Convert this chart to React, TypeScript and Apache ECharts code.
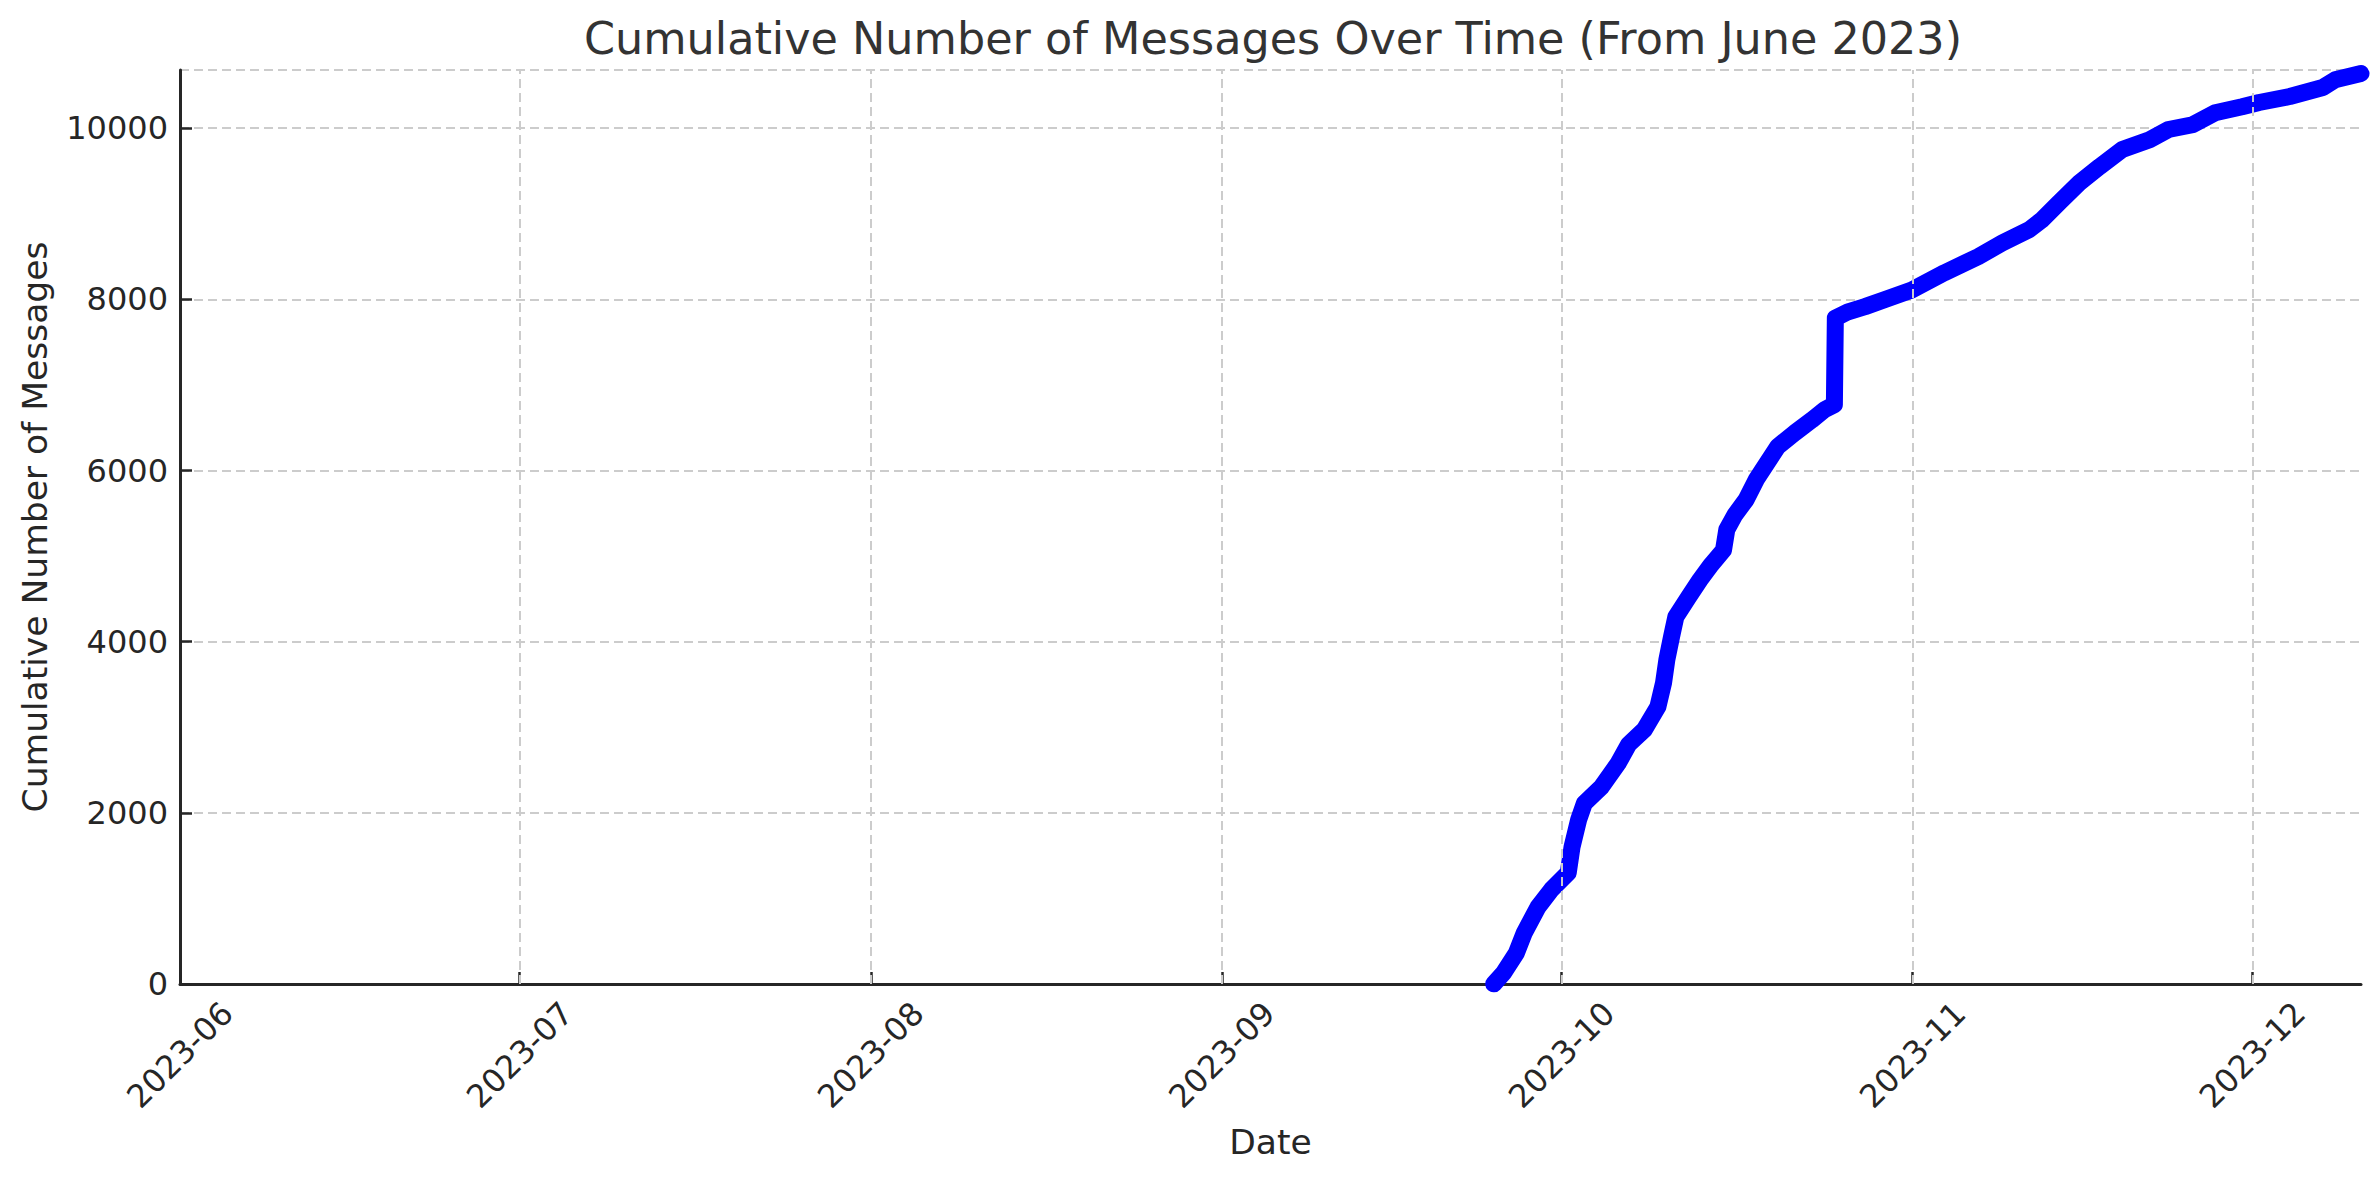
import React, { useEffect, useRef } from "react";
import * as echarts from "echarts";

const TITLE = "Cumulative Number of Messages Over Time (From June 2023)";
const X_NAME = "Date";
const Y_NAME = "Cumulative Number of Messages";

const xStart = "2023-06-01 00:00";
const monthTicks = ["2023-06-01", "2023-07-01", "2023-08-01", "2023-09-01", "2023-10-01", "2023-11-01", "2023-12-01"];

const dates = [
  "2023-09-25 00:00", "2023-09-25 21:00", "2023-09-27 00:00", "2023-09-27 17:00", "2023-09-28 22:00",
  "2023-09-30 02:00", "2023-10-01 14:00", "2023-10-01 22:00", "2023-10-02 12:00", "2023-10-03 00:00",
  "2023-10-04 12:00", "2023-10-06 00:00", "2023-10-06 22:00", "2023-10-08 07:00", "2023-10-09 12:00",
  "2023-10-10 00:00", "2023-10-10 07:00", "2023-10-10 17:00", "2023-10-11 02:00", "2023-10-12 05:00",
  "2023-10-13 05:00", "2023-10-14 05:00", "2023-10-15 07:00", "2023-10-15 14:00", "2023-10-16 07:00",
  "2023-10-17 07:00", "2023-10-18 05:00", "2023-10-20 02:00", "2023-10-21 14:00", "2023-10-23 02:00",
  "2023-10-24 05:00", "2023-10-25 02:00", "2023-10-25 04:00", "2023-10-26 07:00", "2023-10-27 19:00",
  "2023-10-29 12:00", "2023-10-31 22:00", "2023-11-03 19:00", "2023-11-06 19:00", "2023-11-08 22:00",
  "2023-11-11 07:00", "2023-11-12 10:00", "2023-11-13 22:00", "2023-11-15 17:00", "2023-11-17 12:00",
  "2023-11-19 12:00", "2023-11-21 22:00", "2023-11-23 14:00", "2023-11-25 17:00", "2023-11-27 17:00",
  "2023-11-30 02:00", "2023-12-01 14:00", "2023-12-04 07:00", "2023-12-07 05:00", "2023-12-08 07:00",
  "2023-12-10 14:00",
];

const counts = [
  0, 130, 360, 600, 900,
  1100, 1300, 1600, 1920, 2110,
  2300, 2580, 2800, 2970, 3240,
  3520, 3790, 4060, 4290, 4520,
  4720, 4900, 5070, 5310, 5480,
  5660, 5900, 6280, 6440, 6590,
  6710, 6770, 7780, 7855, 7915,
  7995, 8110, 8310, 8500, 8660,
  8815, 8930, 9130, 9360, 9550,
  9750, 9865, 9985, 10040, 10180,
  10250, 10300, 10370, 10475, 10565,
  10640,
];

const yMax = 10680;
const yStep = 2000;

const FONT = "DejaVu Sans";
const TEXT = "#262626";

function parseT(s: string) {
  const [d, t] = s.split(" ");
  const [Y, M, D] = d.split("-").map(Number);
  const [h, m] = (t || "00:00").split(":").map(Number);
  return Date.UTC(Y, M - 1, D, h, m);
}

export default function App() {
  const ref = useRef<HTMLDivElement>(null);
  useEffect(() => {
    if (!ref.current) return;
    const chart = echarts.init(ref.current, undefined, { renderer: "svg" });
    const tickVals = monthTicks.map(parseT);
    const data = dates.map((d, i) => [parseT(d), counts[i]]);
    const fmt = (v: number) => {
      const dt = new Date(v);
      const m = dt.getUTCMonth() + 1;
      return `${dt.getUTCFullYear()}-${m < 10 ? "0" + m : m}`;
    };
    chart.setOption({
      animation: false,
      backgroundColor: "#ffffff",
      title: {
        text: TITLE,
        left: 1268,
        top: 11,
        textAlign: "center",
        textStyle: { fontFamily: FONT, fontSize: 44.5, fontWeight: "normal", color: "#333333" },
      },
      grid: { left: 180, right: 18, top: 70, bottom: 196, containLabel: false },
      xAxis: {
        type: "value",
        min: parseT(xStart),
        max: data[data.length - 1][0],
        name: X_NAME,
        nameLocation: "middle",
        nameGap: 140,
        nameMoveOverlap: false,
        nameTextStyle: { fontFamily: FONT, fontSize: 34.5, color: TEXT },
        axisLine: { show: true, lineStyle: { color: TEXT, width: 3 } },
        axisTick: { show: true, inside: true, length: 12, lineStyle: { color: TEXT, width: 2.5 }, customValues: tickVals },
        axisLabel: {
          customValues: tickVals,
          formatter: (v: number) => fmt(v),
          rotate: 45,
          align: "center",
          verticalAlign: "middle",
          margin: 71,
          fontFamily: FONT,
          fontSize: 32,
          color: TEXT,
        },
        splitLine: { show: false },
      },
      yAxis: {
        type: "value",
        min: 0,
        max: yMax,
        interval: yStep,
        name: Y_NAME,
        nameLocation: "middle",
        nameGap: 128,
        nameMoveOverlap: false,
        nameTextStyle: { fontFamily: FONT, fontSize: 34.5, color: TEXT },
        axisLine: { show: true, lineStyle: { color: TEXT, width: 3 } },
        axisTick: { show: true, inside: true, length: 12, lineStyle: { color: TEXT, width: 2.5 } },
        axisLabel: {
          margin: 12,
          fontFamily: FONT,
          fontSize: 32,
          color: TEXT,
          showMaxLabel: false,
          formatter: (v: number) => String(v),
        },
        splitLine: { show: true, lineStyle: { color: "#cccccc", width: 2, type: [9, 5] } },
      },
      series: [
        {
          type: "line",
          data,
          showSymbol: false,
          clip: true,
          lineStyle: { color: "#0000ff", width: 17, cap: "round", join: "round" },
          markLine: {
            silent: true,
            symbol: ["none", "none"],
            label: { show: false },
            lineStyle: { color: "#cccccc", width: 2, type: [9, 5] },
            data: tickVals.slice(1).map((v) => ({ xAxis: v })),
          },
          z: 3,
        },
      ],
    });
    return () => chart.dispose();
  }, []);
  return (
    <div
      ref={ref}
      style={{ position: "fixed", left: 0, top: 0, width: 2379, height: 1180, background: "#fff" }}
    />
  );
}
